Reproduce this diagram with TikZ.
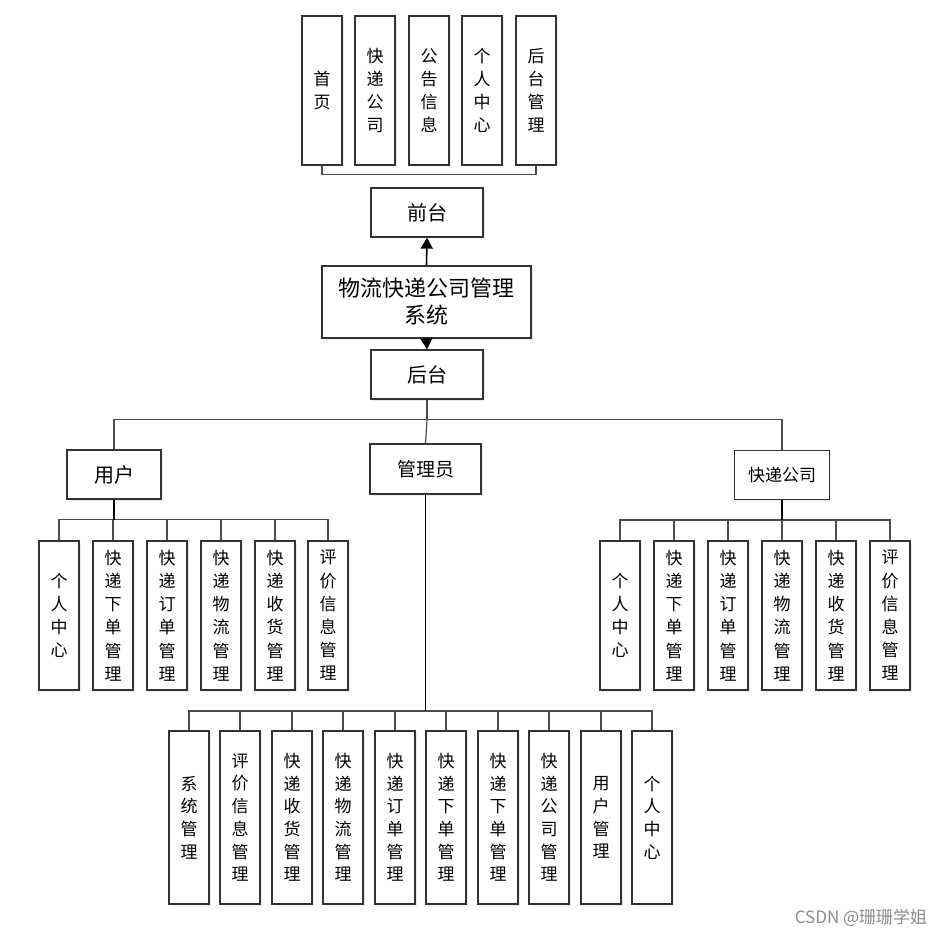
\documentclass[tikz,border=0pt]{standalone}
\usepackage{fontspec}
\setmainfont{Noto Sans CJK SC}
\usetikzlibrary{arrows.meta,shadows}
\begin{document}
\begin{tikzpicture}[x=1pt,y=-1pt,
  boxbase/.style={draw=black!80,line width=1.3pt,fill=white,inner sep=0pt,align=center,
    drop shadow={shadow xshift=1.5pt,shadow yshift=-1.5pt,fill=blue!25,opacity=0.35}},
  vbox/.style={boxbase,minimum width=40pt,minimum height=149pt,font=\fontsize{17}{23.2}\selectfont},
  vboxtall/.style={boxbase,minimum width=40pt,minimum height=173pt,font=\fontsize{17}{22.7}\selectfont},
  hbox/.style={boxbase,font=\fontsize{20}{24}\selectfont},
  branch/.style={draw=black!70,line width=1.2pt},
  trunk/.style={draw=black,line width=1.6pt},
  arr/.style={draw=black,line width=1.6pt,-{Triangle[length=11pt,width=12pt]}}
]
\useasboundingbox (0,0) rectangle (945,936);
\fill[white] (0,0) rectangle (945,936);

% top row
\node[vbox] (t1) at (322,90.5) {首\\页};
\node[vbox] (t2) at (375,90.5) {快\\递\\公\\司};
\node[vbox] (t3) at (429,90.5) {公\\告\\信\\息};
\node[vbox] (t4) at (482,90.5) {个\\人\\中\\心};
\node[vbox] (t5) at (536,90.5) {后\\台\\管\\理};
\draw[branch] (t1.south) -- ++(0,9) coordinate (tb) -| (t5.south);

% center column
\node[hbox,minimum width=112pt,minimum height=49pt] (qt) at (427,212.5) {前台};
\node[boxbase,minimum width=209pt,minimum height=72pt,font=\fontsize{22}{27}\selectfont] (sys) at (426.5,302) {物流快递公司管理\\系统};
\node[hbox,minimum width=112pt,minimum height=49pt] (ht) at (427,374.5) {后台};
\draw[arr] (sys.north) -- (qt.south);
\draw[arr] (sys.south) -- (ht.north);

% second level
\node[hbox,minimum width=94pt,minimum height=49pt] (user) at (114,474.5) {用户};
\node[hbox,minimum width=111pt,minimum height=50pt,font=\fontsize{19}{23}\selectfont] (admin) at (425.5,469) {管理员};
\node[hbox,minimum width=95pt,minimum height=49pt,font=\fontsize{17}{21}\selectfont] (comp) at (782,475) {快递公司};
\draw[branch] (ht.south) -- ++(0,20) coordinate (hb);
\draw[branch] (user.north) |- (hb) -| (comp.north);
\draw[branch] (hb) -- (admin.north);

% user children
\node[vbox] (u1) at (59,615.5) {个\\人\\中\\心};
\node[vbox] (u2) at (113,615.5) {快\\递\\下\\单\\管\\理};
\node[vbox] (u3) at (167,615.5) {快\\递\\订\\单\\管\\理};
\node[vbox] (u4) at (221,615.5) {快\\递\\物\\流\\管\\理};
\node[vbox] (u5) at (275,615.5) {快\\递\\收\\货\\管\\理};
\node[vbox] (u6) at (328,615.5) {评\\价\\信\\息\\管\\理};
\coordinate (ub) at (114,519.5);
\foreach \n in {u1,u2,u3,u4,u5,u6} \draw[branch] (ub) -| (\n.north);
\draw[trunk] (user.south) -- (ub);

% company children
\node[vbox] (c1) at (620,615.5) {个\\人\\中\\心};
\node[vbox] (c2) at (674,615.5) {快\\递\\下\\单\\管\\理};
\node[vbox] (c3) at (728,615.5) {快\\递\\订\\单\\管\\理};
\node[vbox] (c4) at (782,615.5) {快\\递\\物\\流\\管\\理};
\node[vbox] (c5) at (836,615.5) {快\\递\\收\\货\\管\\理};
\node[vbox] (c6) at (890,615.5) {评\\价\\信\\息\\管\\理};
\coordinate (cb) at (782,520);
\foreach \n in {c1,c2,c3,c4,c5,c6} \draw[branch] (cb) -| (\n.north);
\draw[trunk] (comp.south) -- (cb);

% admin children
\node[vboxtall] (a1) at (189,817.5) {系\\统\\管\\理};
\node[vboxtall] (a2) at (240,817.5) {评\\价\\信\\息\\管\\理};
\node[vboxtall] (a3) at (292,817.5) {快\\递\\收\\货\\管\\理};
\node[vboxtall] (a4) at (343,817.5) {快\\递\\物\\流\\管\\理};
\node[vboxtall] (a5) at (395,817.5) {快\\递\\订\\单\\管\\理};
\node[vboxtall] (a6) at (446,817.5) {快\\递\\下\\单\\管\\理};
\node[vboxtall] (a7) at (498,817.5) {快\\递\\下\\单\\管\\理};
\node[vboxtall] (a8) at (549,817.5) {快\\递\\公\\司\\管\\理};
\node[vboxtall] (a9) at (601,817.5) {用\\户\\管\\理};
\node[vboxtall] (a10) at (652,817.5) {个\\人\\中\\心};
\coordinate (ab) at (425.5,711);
\foreach \n in {a1,a2,a3,a4,a5,a6,a7,a8,a9,a10} \draw[branch] (ab) -| (\n.north);
\draw[trunk] (admin.south) -- (ab);

% watermark
\node[text=black!45,font=\fontsize{17}{20}\selectfont,inner sep=0pt] (wm) at (861,918) {CSDN @珊珊学姐};
\end{tikzpicture}
\end{document}
